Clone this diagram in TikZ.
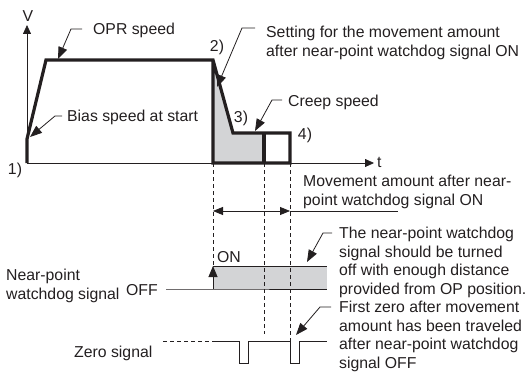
\documentclass[tikz,border=0pt]{standalone}
\usepackage{fontspec}
\setmainfont{Liberation Sans}
\usepackage{xcolor}
\definecolor{inkgray}{HTML}{231F20}
\definecolor{shadegray}{HTML}{D3D4D6}
\usepackage{tikz}
\usetikzlibrary{arrows.meta, positioning}

\begin{document}
\begin{tikzpicture}[
    x=1pt, y=-1pt,
    font=\fontsize{15.8}{18.6}\selectfont,
    txt/.style={inner sep=0pt, text=inkgray},
    note/.style={inner sep=0pt, text=inkgray, align=left, anchor=north west},
    profile/.style={line width=3.2pt, draw=inkgray, line join=miter},
    axis/.style={-{Triangle[length=9pt, width=8pt]}, line width=0.8pt, draw=inkgray},
    leader/.style={-{Triangle[length=12pt, width=9pt]}, line width=0.8pt, draw=inkgray},
    dimarr/.style={{Triangle[length=10pt, width=8pt]}-{Triangle[length=10pt, width=8pt]}, line width=0.8pt, draw=inkgray},
    guide/.style={dash pattern=on 4pt off 3pt, line width=0.7pt, draw=inkgray},
    sig/.style={line width=0.9pt, draw=inkgray},
]
    \useasboundingbox (0,0) rectangle (529,374);

    % axes
    \coordinate (o) at (27,163);
    \coordinate (vtop) at (27,25);
    \coordinate (tend) at (374,163);
    \draw[axis] (o) -- (vtop);
    \draw[axis] (o) -- (tend);
    \node[txt] (vlbl) at (28,16) {V};
    \node[txt, anchor=west] (tlbl) at (377,162) {t};

    % speed profile
    \coordinate (p0) at (27,163);
    \coordinate (p1) at (27,139);
    \coordinate (p2) at (46,60);
    \coordinate (p3) at (213,60);
    \coordinate (p4) at (233,133);
    \coordinate (p5) at (290,133);
    \coordinate (p6) at (290,163);
    \coordinate (p7) at (213,163);
    \coordinate (q1) at (264,133);
    \coordinate (q2) at (264,163);
    \fill[shadegray] (p3) -- (p4) -- (q1) -- (q2) -- (p7) -- cycle;
    \draw[profile] (p0) -- (p1) -- (p2) -- (p3) -- (p4) -- (p5) -- (p6) -- (p7) -- (p3);
    \draw[profile] (q1) -- (q2);

    \node[txt] (n1) at (15,170) {1)};
    \node[txt] (n2) at (217,47) {2)};
    \node[txt] (n3) at (241,118) {3)};
    \node[txt] (n4) at (305,135) {4)};

    % callouts on the profile
    \node[txt, anchor=west] (opr) at (93,30) {OPR speed};
    \coordinate (oprA) at (82,29);
    \coordinate (oprB) at (71,29);
    \coordinate (oprT) at (58,59);
    \draw[leader] (oprA) -- (oprB) -- (oprT);

    \node[txt, anchor=west] (bias) at (67,117) {Bias speed at start};
    \coordinate (biasA) at (62,116);
    \coordinate (biasB) at (55,116);
    \coordinate (biasT) at (30,137);
    \draw[leader] (biasA) -- (biasB) -- (biasT);

    \node[note] (setting) at (266,26) {Setting for the movement amount\\after near-point watchdog signal ON};
    \coordinate (setA) at (255,28);
    \coordinate (setB) at (242,28);
    \coordinate (setT) at (217,87);
    \draw[leader] (setA) -- (setB) -- (setT);

    \node[txt, anchor=west] (creep) at (288,102) {Creep speed};
    \coordinate (creepA) at (282,100);
    \coordinate (creepB) at (272,100);
    \coordinate (creepT) at (255,131);
    \draw[leader] (creepA) -- (creepB) -- (creepT);

    % movement amount
    \node[note] (move) at (303,175) {Movement amount after near-\\point watchdog signal ON};
    \coordinate (dimL) at (213,211);
    \coordinate (dimR) at (290,211);
    \coordinate (dimE) at (398,211);
    \draw[dimarr] (dimL) -- (dimR);
    \draw[sig] (dimR) -- (dimE);

    % near-point watchdog signal
    \node[note] (nplbl) at (6,269) {Near-point\\watchdog signal};
    \node[txt, anchor=west] (offlbl) at (126,290) {OFF};
    \node[txt, anchor=west] (onlbl) at (217,257) {ON};
    \coordinate (offL) at (166,289);
    \coordinate (onB) at (213,289);
    \coordinate (onT) at (213,266);
    \coordinate (boxR) at (327,266);
    \coordinate (boxRB) at (327,289);
    \fill[shadegray] (onB) rectangle (boxR);
    \draw[sig] (offL) -- (onB) -- (boxRB);
    \draw[sig] (onT) -- (boxR);
    \draw[sig, -{Triangle[length=11pt, width=9pt]}] (onB) -- (onT);

    % zero signal
    \node[txt, anchor=west] (zerolbl) at (74,353) {Zero signal};
    \coordinate (z0) at (163,341);
    \coordinate (z1) at (213,341);
    \coordinate (z2) at (327,341);
    \draw[guide] (z0) -- (z1);
    \draw[sig] (z1) -- ++(26,0) -- ++(0,22) -- ++(9,0) -- ++(0,-22) -- ++(42,0) -- ++(0,22) -- ++(9,0) -- ++(0,-22) -- (z2);

    % dashed guides
    \coordinate (g2) at (264,334);
    \coordinate (g3) at (290,341);
    \draw[guide] (p7) -- (onT);
    \draw[guide] (q2) -- (g2);
    \draw[guide] (p6) -- (g3);

    % notes on the signals
    \node[note] (npnote) at (339,227) {The near-point watchdog\\signal should be turned\\off with enough distance\\provided from OP position.};
    \coordinate (npA) at (332,233);
    \coordinate (npB) at (323,233);
    \coordinate (npT) at (307,262);
    \draw[leader] (npA) -- (npB) -- (npT);

    \node[note] (zeronote) at (339,301) {First zero after movement\\amount has been traveled\\after near-point watchdog\\signal OFF};
    \coordinate (zA) at (331,307);
    \coordinate (zB) at (320,307);
    \coordinate (zT) at (296,335);
    \draw[leader] (zA) -- (zB) -- (zT);
\end{tikzpicture}
\end{document}
